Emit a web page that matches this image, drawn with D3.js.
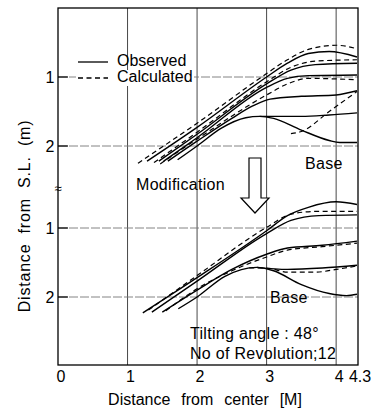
<!DOCTYPE html>
<html>
<head>
<meta charset="utf-8">
<script src="https://cdn.jsdelivr.net/npm/d3@7/dist/d3.min.js"></script>
<style>
  body { margin: 0; background: #fff; }
  svg { display: block; font-family: "Liberation Sans", Arial, sans-serif; }
</style>
</head>
<body>
<svg id="chart" width="377" height="410"></svg>
<script>
// axis values
const xTicks = [0, 1, 2, 3, 4, 4.3];
const xTickLabels = ['0', '1', '2', '3', '4', '4.3'];
const xGrid = [1, 2, 3, 4];
const yTicks = [1, 2];

// upper panel (before modification): [distance from center, depth below S.L.]
const upperObserved = [
  [[1.28, 2.22], [2.0, 1.73], [3.0, 1.0], [3.3, 0.8], [3.6, 0.66], [3.9, 0.63], [4.3, 0.71]],
  [[1.45, 2.22], [2.0, 1.83], [3.0, 1.1], [3.35, 0.9], [3.7, 0.82], [4.3, 0.8]],
  [[1.52, 2.22], [2.0, 1.88], [3.0, 1.15], [3.3, 1.02], [3.6, 0.98], [4.3, 0.97]],
  [[1.58, 2.22], [2.0, 1.93], [2.5, 1.6], [2.8, 1.42], [3.05, 1.32], [3.5, 1.28], [4.0, 1.26], [4.3, 1.2]],
  [[2.9, 1.57], [3.5, 1.57], [3.9, 1.55], [4.3, 1.52]]
];
const upperCalculated = [
  [[1.15, 2.25], [2.0, 1.67], [3.0, 0.95], [3.3, 0.75], [3.6, 0.6], [4.0, 0.54], [4.3, 0.59]],
  [[1.38, 2.24], [2.0, 1.8], [3.0, 1.07], [3.35, 0.86], [3.7, 0.77], [4.3, 0.75]],
  [[1.47, 2.26], [2.0, 1.9], [3.0, 1.26], [3.3, 1.1], [3.6, 1.02], [4.3, 1.04]],
  [[3.35, 1.82], [3.5, 1.79], [3.9, 1.5], [4.3, 1.21]]
];
const upperBase = [[1.72, 2.2], [2.0, 2.0], [2.35, 1.74], [2.7, 1.59], [2.9, 1.57], [3.1, 1.6],
  [3.5, 1.77], [3.9, 1.92], [4.05, 1.95], [4.3, 1.95]];

// lower panel (after modification)
const lowerObserved = [
  [[1.22, 2.23], [2.0, 1.72], [3.0, 1.04], [3.3, 0.82], [3.6, 0.7], [4.0, 0.62], [4.3, 0.66]],
  [[1.35, 2.22], [2.0, 1.77], [3.0, 1.08], [3.35, 0.89], [3.75, 0.82], [4.3, 0.81]],
  [[1.5, 2.22], [2.0, 1.9], [2.5, 1.6], [3.0, 1.38], [3.3, 1.29], [3.8, 1.25], [4.3, 1.19]],
  [[2.86, 1.57], [3.3, 1.6], [3.8, 1.58], [4.3, 1.54]]
];
const lowerCalculated = [
  [[1.3, 2.19], [2.0, 1.69], [3.0, 0.99], [3.35, 0.8], [3.7, 0.76], [4.3, 0.76]],
  [[1.55, 2.2], [2.0, 1.88], [2.5, 1.62], [3.0, 1.42], [3.3, 1.32], [3.8, 1.27], [4.3, 1.22]],
  [[2.75, 1.58], [3.0, 1.58], [3.3, 1.64], [3.7, 1.64], [4.0, 1.6], [4.3, 1.55]]
];
const lowerBase = [[1.73, 2.17], [2.0, 2.0], [2.4, 1.7], [2.86, 1.57], [3.1, 1.62], [3.5, 1.82],
  [3.9, 1.95], [4.15, 1.98], [4.3, 1.96]];

const svg = d3.select('#chart');

const frame = {left: 58, right: 358, top: 8, bottom: 365};

const x = d3.scaleLinear().domain([0, 4.3]).range([58, 357]);
const yUp = d3.scaleLinear().domain([1, 2]).range([77, 146]);
const yLow = d3.scaleLinear().domain([1, 2]).range([228, 297]);

// grid
svg.append('g')
  .selectAll('line')
  .data(xGrid)
  .join('line')
    .attr('x1', d => x(d)).attr('x2', d => x(d))
    .attr('y1', frame.top).attr('y2', frame.bottom)
    .attr('stroke', '#333')
    .attr('stroke-width', 0.9);

[yUp, yLow].forEach(y => {
  svg.append('g')
    .selectAll('line')
    .data(yTicks)
    .join('line')
      .attr('x1', frame.left).attr('x2', frame.right)
      .attr('y1', d => y(d)).attr('y2', d => y(d))
      .attr('stroke', '#777')
      .attr('stroke-width', 0.9)
      .attr('stroke-dasharray', '9,2');

  svg.append('g')
    .selectAll('line')
    .data(yTicks)
    .join('line')
      .attr('x1', frame.left).attr('x2', frame.left + 10)
      .attr('y1', d => y(d)).attr('y2', d => y(d))
      .attr('stroke', '#000')
      .attr('stroke-width', 1.2);

  svg.append('g')
    .attr('font-size', 16)
    .attr('text-anchor', 'middle')
    .selectAll('text')
    .data(yTicks)
    .join('text')
      .attr('x', 50)
      .attr('y', d => y(d))
      .attr('dy', '0.36em')
      .text(d => d);
});

// frame
svg.append('rect')
  .attr('x', frame.left).attr('y', frame.top)
  .attr('width', frame.right - frame.left)
  .attr('height', frame.bottom - frame.top)
  .attr('fill', 'none')
  .attr('stroke', '#000')
  .attr('stroke-width', 1.3);

// axis break mark
svg.append('text')
  .attr('x', frame.left).attr('y', 188)
  .attr('dy', '0.35em')
  .attr('text-anchor', 'middle')
  .attr('font-size', 13)
  .text('\u2248');

// profiles
const drawProfiles = (profiles, y, dashed) => {
  const line = d3.line()
    .x(d => x(d[0]))
    .y(d => y(d[1]))
    .curve(d3.curveMonotoneX);

  svg.append('g')
      .attr('fill', 'none')
      .attr('stroke', '#000')
      .attr('stroke-width', dashed ? 1.2 : 1.4)
      .attr('stroke-dasharray', dashed ? '5,3.5' : null)
    .selectAll('path')
    .data(profiles)
    .join('path')
      .attr('d', line);
};

drawProfiles(upperObserved, yUp, false);
drawProfiles([upperBase], yUp, false);
drawProfiles(upperCalculated, yUp, true);
drawProfiles(lowerObserved, yLow, false);
drawProfiles([lowerBase], yLow, false);
drawProfiles(lowerCalculated, yLow, true);

// legend
const legend = svg.append('g').attr('font-size', 16);
legend.append('rect')
  .attr('x', 76).attr('y', 70).attr('width', 118).attr('height', 16)
  .attr('fill', '#fff');
[['Observed', null, 62], ['Calculated', '5,3.5', 78]].forEach(([label, dash, ly]) => {
  legend.append('line')
    .attr('x1', 78).attr('x2', 108)
    .attr('y1', ly).attr('y2', ly)
    .attr('stroke', '#000')
    .attr('stroke-width', 1.3)
    .attr('stroke-dasharray', dash);
  legend.append('text')
    .attr('x', 117).attr('y', ly - 2)
    .attr('dy', '0.36em')
    .text(label);
});

// annotations
const notes = svg.append('g')
  .attr('font-size', 16)
  .attr('letter-spacing', 0.3);

notes.append('text').attr('x', 305).attr('y', 169).text('Base');
notes.append('text').attr('x', 136).attr('y', 190).text('Modification');
notes.append('text').attr('x', 270).attr('y', 303).text('Base');
notes.append('text').attr('x', 190).attr('y', 339).text('Tilting angle : 48\u00b0');
notes.append('text').attr('x', 190).attr('y', 359).text('No of Revolution;12');

// hollow arrow
svg.append('path')
  .attr('d', 'M249,158 L261,158 L261,198 L269,198 L255,213 L241,198 L249,198 Z')
  .attr('fill', '#fff')
  .attr('stroke', '#000')
  .attr('stroke-width', 1.2);

// x tick labels
svg.append('g')
  .attr('font-size', 16)
  .attr('text-anchor', 'middle')
  .selectAll('text')
  .data(xTicks)
  .join('text')
    .attr('x', d => x(d) + 3)
    .attr('y', 382)
    .text((d, i) => xTickLabels[i]);

// axis titles
svg.append('text')
  .attr('x', 205).attr('y', 405)
  .attr('text-anchor', 'middle')
  .attr('font-size', 16)
  .attr('word-spacing', 6.5)
  .text('Distance from center [M]');

svg.append('text')
  .attr('transform', 'translate(30,216) rotate(-90)')
  .attr('text-anchor', 'middle')
  .attr('font-size', 16)
  .attr('letter-spacing', 0.8)
  .attr('word-spacing', 5)
  .text('Distance from S.L. (m)');
</script>
</body>
</html>
